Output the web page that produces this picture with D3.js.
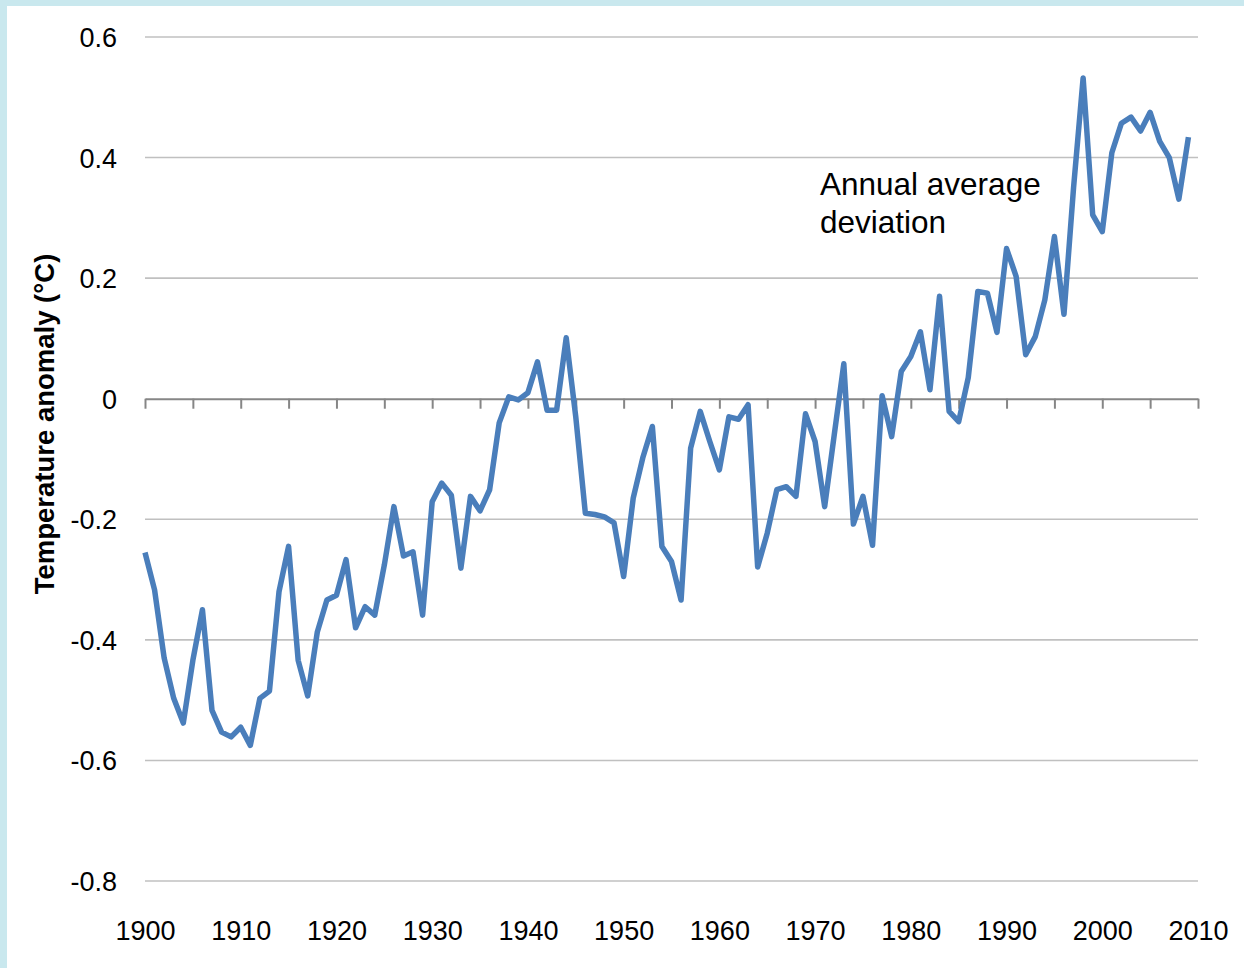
<!DOCTYPE html>
<html>
<head>
<meta charset="utf-8">
<script src="https://cdn.jsdelivr.net/npm/d3@7"></script>
<style>
  html, body { margin: 0; padding: 0; background: #ffffff; }
  svg { display: block; }
</style>
</head>
<body>
<svg id="chart" width="1244" height="968"></svg>
<script>
// ---- Data ----
const startYear = 1900;
const anomalies = [
  -0.255, -0.317, -0.430, -0.497, -0.538, -0.434, -0.350, -0.517, -0.553, -0.561,
  -0.545, -0.575, -0.497, -0.485, -0.320, -0.245, -0.434, -0.493, -0.387, -0.334,
  -0.326, -0.267, -0.380, -0.345, -0.359, -0.276, -0.179, -0.261, -0.254, -0.359,
  -0.171, -0.140, -0.160, -0.281, -0.162, -0.186, -0.151, -0.040, 0.003, -0.002,
  0.010, 0.061, -0.019, -0.019, 0.101, -0.030, -0.190, -0.192, -0.196, -0.206,
  -0.295, -0.165, -0.098, -0.046, -0.245, -0.270, -0.334, -0.082, -0.021, -0.071,
  -0.118, -0.030, -0.034, -0.010, -0.279, -0.223, -0.151, -0.146, -0.162, -0.025,
  -0.071, -0.179, -0.060, 0.058, -0.208, -0.162, -0.243, 0.005, -0.063, 0.045,
  0.070, 0.111, 0.015, 0.170, -0.021, -0.038, 0.035, 0.178, 0.175, 0.110,
  0.249, 0.203, 0.073, 0.103, 0.164, 0.269, 0.140, 0.350, 0.532, 0.305,
  0.277, 0.408, 0.457, 0.467, 0.444, 0.475, 0.427, 0.400, 0.331, 0.434
];
const years = anomalies.map((_, i) => startYear + i);
const xTickLabels = [1900, 1910, 1920, 1930, 1940, 1950, 1960, 1970, 1980, 1990, 2000, 2010];
const yTickValues = [0.6, 0.4, 0.2, 0, -0.2, -0.4, -0.6, -0.8];
const yTickLabels = ["0.6", "0.4", "0.2", "0", "-0.2", "-0.4", "-0.6", "-0.8"];
const minorTicks = d3.range(1900, 2011, 5);
const annotationLines = ["Annual average", "deviation"];
const yTitle = "Temperature anomaly (°C)";

// ---- Layout ----
const svg = d3.select("#chart");
const W = 1244, H = 968;
const mLeft = 145, mRight = 1198, mTop = 37, mBottom = 881;

// frame
svg.append("rect").attr("x", 0).attr("y", 0).attr("width", W).attr("height", H).attr("fill", "#ffffff");
svg.append("rect").attr("x", 0).attr("y", 0).attr("width", W).attr("height", 6).attr("fill", "#c9e8ee");
svg.append("rect").attr("x", 0).attr("y", 0).attr("width", 7).attr("height", H).attr("fill", "#c9e8ee");

const x = d3.scaleLinear().domain([1900, 2010]).range([mLeft, mRight]);
const y = d3.scaleLinear().domain([-0.8, 0.6]).range([mBottom, mTop]);

const font = "'Liberation Sans', Arial, sans-serif";

// gridlines
svg.append("g")
  .selectAll("line")
  .data(yTickValues.filter(v => v !== 0))
  .join("line")
  .attr("x1", mLeft).attr("x2", mRight)
  .attr("y1", d => y(d)).attr("y2", d => y(d))
  .attr("stroke", "#c0c0c0").attr("stroke-width", 1.6);

// y axis labels
const yAxis = d3.axisLeft(y).tickValues(yTickValues).tickSize(0).tickPadding(28)
  .tickFormat((d, i) => yTickLabels[i]);
const gy = svg.append("g").attr("transform", `translate(${mLeft},0)`).call(yAxis);
gy.select(".domain").remove();
gy.selectAll("text").attr("font-family", font).attr("font-size", 27).attr("fill", "#000")
  .attr("dy", "0.35em");

// x axis labels (bottom)
const xAxis = d3.axisBottom(x).tickValues(xTickLabels).tickSize(0).tickPadding(0)
  .tickFormat(d3.format("d"));
const gx = svg.append("g").attr("transform", `translate(0,${mBottom})`).call(xAxis);
gx.select(".domain").remove();
gx.selectAll("text").attr("font-family", font).attr("font-size", 27).attr("fill", "#000")
  .attr("dy", null).attr("y", 59);

// zero axis with minor ticks
const zeroAxis = d3.axisBottom(x).tickValues(minorTicks).tickSize(10).tickSizeOuter(0).tickFormat("");
const gz = svg.append("g").attr("transform", `translate(0,${y(0)})`).call(zeroAxis);
gz.select(".domain").attr("stroke", "#868686").attr("stroke-width", 2);
gz.selectAll(".tick line").attr("stroke", "#868686").attr("stroke-width", 2);

// y title
svg.append("text")
  .attr("transform", `translate(54,${424}) rotate(-90)`)
  .attr("text-anchor", "middle")
  .attr("font-family", font).attr("font-weight", "bold").attr("font-size", 27.5)
  .attr("fill", "#000")
  .text(yTitle);

// line
const line = d3.line().x((d, i) => x(years[i])).y(d => y(d));
svg.append("path")
  .datum(anomalies)
  .attr("d", line)
  .attr("fill", "none")
  .attr("stroke", "#4a7ebb")
  .attr("stroke-width", 5.5)
  .attr("stroke-linejoin", "round")
  .attr("stroke-linecap", "butt");

// annotation
const ann = svg.append("text")
  .attr("font-family", font).attr("font-size", 31.5).attr("fill", "#000");
annotationLines.forEach((t, i) => {
  ann.append("tspan").attr("x", 820).attr("y", 195 + i * 38).text(t);
});
</script>
</body>
</html>
